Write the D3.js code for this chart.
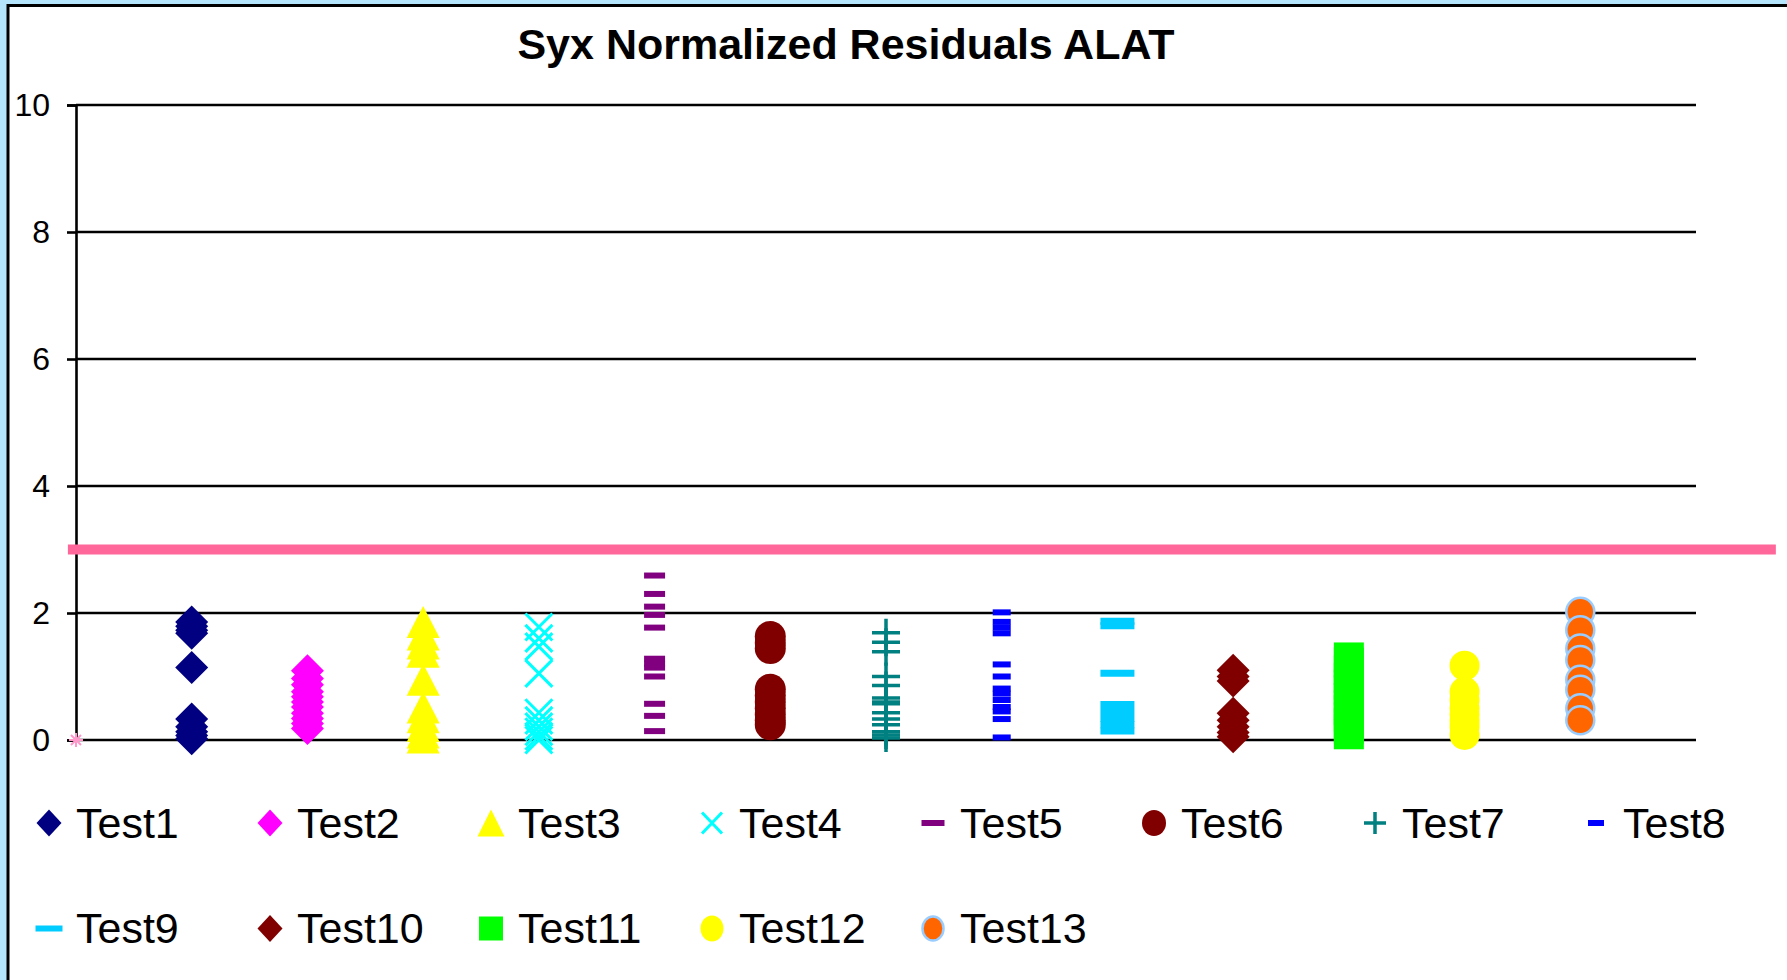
<!DOCTYPE html>
<html>
<head>
<meta charset="utf-8">
<script src="https://cdn.jsdelivr.net/npm/d3@7"></script>
<style>
  body { margin: 0; background: #b5e5fd; }
  svg { display: block; font-family: "Liberation Sans", Arial, sans-serif; }
</style>
</head>
<body>
<svg width="1787" height="980"></svg>
<script>
var svg = d3.select("svg"),
    width = +svg.attr("width"),
    height = +svg.attr("height");

// chart data
var categories = ["Test1", "Test2", "Test3", "Test4", "Test5", "Test6", "Test7",
                  "Test8", "Test9", "Test10", "Test11", "Test12", "Test13"];

var test1  = [1.86, 1.79, 1.73, 1.68, 1.14, 0.33, 0.21, 0.13, 0.07, 0.02];
var test2  = [1.09, 0.97, 0.87, 0.76, 0.68, 0.60, 0.52, 0.42, 0.34, 0.26, 0.18];
var test3  = [1.86, 1.66, 1.52, 1.39, 0.95, 0.51, 0.36, 0.22, 0.12, 0.04];
var test4  = [1.78, 1.60, 1.47, 1.05, 0.43, 0.31, 0.21, 0.13, 0.06, 0.0];
var test5  = [2.59, 2.30, 2.10, 1.97, 1.77, 1.28, 1.20, 1.14, 1.00, 0.57, 0.38, 0.14];
var test6  = [1.63, 1.53, 1.44, 0.80, 0.70, 0.60, 0.50, 0.40, 0.31, 0.24];
var test7  = [1.69, 1.54, 1.39, 1.00, 0.86, 0.66, 0.60, 0.57, 0.43, 0.33, 0.24, 0.13, 0.08, 0.03];
var test8  = [2.01, 1.86, 1.77, 1.68, 1.19, 1.00, 0.81, 0.73, 0.63, 0.52, 0.45, 0.33, 0.04];
var test9  = [1.87, 1.80, 1.05, 0.56, 0.45, 0.34, 0.24, 0.14];
var test10 = [1.10, 1.00, 0.93, 0.42, 0.31, 0.21, 0.12, 0.05];
var test11 = [1.30, 1.22, 1.10, 0.98, 0.87, 0.79, 0.66, 0.55, 0.47, 0.36, 0.27, 0.18, 0.09];
var test12 = [1.17, 0.76, 0.63, 0.50, 0.40, 0.30, 0.21, 0.08];
var test13 = [2.02, 1.73, 1.44, 1.26, 0.95, 0.79, 0.50, 0.31];

var seriesValues = [test1, test2, test3, test4, test5, test6, test7,
                    test8, test9, test10, test11, test12, test13];

var yTicks = [0, 2, 4, 6, 8, 10];
var limitValue = 3;             // pink limit line
var limitExtent = [-0.07, 14.69]; // x extent of limit line
var originPoint = [0, 0];       // the little pink star

// marker look for each series
var markerStyles = [
    {shape: "diamond",  fill: "#000080", w: 33, h: 33, lw: 25, lh: 27},
    {shape: "diamond",  fill: "#ff00ff", w: 33, h: 33, lw: 25, lh: 27},
    {shape: "triangle", fill: "#ffff00", w: 33, h: 32, lw: 27, lh: 27},
    {shape: "x",        stroke: "#00ffff", sw: 3, w: 27, h: 27, lw: 20, lh: 21},
    {shape: "dash",     fill: "#800080", w: 21, h: 6, lw: 23, lh: 6},
    {shape: "circle",   fill: "#800000", w: 31, h: 31, lw: 24, lh: 26},
    {shape: "plus",     stroke: "#008080", sw: 3.5, w: 28, h: 28, lw: 22, lh: 22},
    {shape: "dash",     fill: "#0000ff", w: 18, h: 6, lw: 16, lh: 6},
    {shape: "dash",     fill: "#00ccff", w: 34, h: 7, lw: 27, lh: 6},
    {shape: "diamond",  fill: "#800000", w: 33, h: 33, lw: 25, lh: 27},
    {shape: "square",   fill: "#00ff00", w: 30, h: 30, lw: 24, lh: 24},
    {shape: "circle",   fill: "#ffff00", w: 30, h: 30, lw: 23, lh: 26},
    {shape: "circle",   fill: "#ff6600", stroke: "#99ccff", sw: 2.5, w: 28, h: 28, lw: 21, lh: 24}
];

// path for one marker centred at 0,0
function markerPath(shape, w, h) {
    var p = d3.path();
    if (shape === "diamond") {
        p.moveTo(0, -h / 2); p.lineTo(w / 2, 0); p.lineTo(0, h / 2); p.lineTo(-w / 2, 0); p.closePath();
    } else if (shape === "triangle") {
        p.moveTo(0, -h / 2); p.lineTo(w / 2, h / 2); p.lineTo(-w / 2, h / 2); p.closePath();
    } else if (shape === "square" || shape === "dash") {
        p.rect(-w / 2, -h / 2, w, h);
    } else if (shape === "x") {
        p.moveTo(-w / 2, -h / 2); p.lineTo(w / 2, h / 2);
        p.moveTo(w / 2, -h / 2); p.lineTo(-w / 2, h / 2);
    } else if (shape === "plus") {
        p.moveTo(-w / 2, 0); p.lineTo(w / 2, 0);
        p.moveTo(0, -h / 2); p.lineTo(0, h / 2);
    } else if (shape === "star") {
        p.moveTo(-w / 2, 0); p.lineTo(w / 2, 0);
        p.moveTo(-w / 2.8, -h / 2.8); p.lineTo(w / 2.8, h / 2.8);
        p.moveTo(w / 2.8, -h / 2.8); p.lineTo(-w / 2.8, h / 2.8);
        p.moveTo(0, -h / 2); p.lineTo(0, h / 2);
    }
    if (shape === "circle") {
        var rx = w / 2, ry = h / 2;
        return "M" + (-rx) + ",0A" + rx + "," + ry + " 0 1,0 " + rx + ",0A" + rx + "," + ry + " 0 1,0 " + (-rx) + ",0Z";
    }
    return p.toString();
}

function styleMarker(sel, st) {
    var lineLike = (st.shape === "x" || st.shape === "plus" || st.shape === "star");
    sel.attr("fill", lineLike ? "none" : st.fill)
       .attr("stroke", st.stroke || "none")
       .attr("stroke-width", st.sw || 0);
}

// frame: white chart area with black border over the light blue page
svg.append("rect")
    .attr("x", 0).attr("y", 0)
    .attr("width", width).attr("height", height)
    .attr("fill", "#b5e5fd");
svg.append("rect")
    .attr("x", 8).attr("y", 5.5)
    .attr("width", width + 20).attr("height", height + 20)
    .attr("fill", "#ffffff")
    .attr("stroke", "#000")
    .attr("stroke-width", 3);

// scales
var x = d3.scaleLinear().domain([0, 14]).range([76, 1696]);
var y = d3.scaleLinear().domain([0, 10]).range([740, 105]);

// title
svg.append("text")
    .attr("x", 846)
    .attr("y", 59)
    .attr("text-anchor", "middle")
    .attr("font-size", 43)
    .attr("font-weight", "bold")
    .attr("fill", "#000")
    .text("Syx Normalized Residuals ALAT");

// gridlines
svg.append("g")
    .selectAll("line")
    .data(yTicks)
    .enter().append("line")
    .attr("x1", x(0)).attr("x2", x(14))
    .attr("y1", function(d) { return y(d); })
    .attr("y2", function(d) { return y(d); })
    .attr("stroke", "#000")
    .attr("stroke-width", 2.6);

// y axis
var yAxis = svg.append("g")
    .attr("transform", "translate(" + x(0) + ",0)")
    .call(d3.axisLeft(y).tickValues(yTicks).tickSize(9).tickPadding(17));
yAxis.select(".domain").attr("stroke", "#000").attr("stroke-width", 2.6);
yAxis.selectAll(".tick line").attr("stroke", "#000").attr("stroke-width", 2.6);
yAxis.selectAll(".tick text")
    .attr("font-size", 32)
    .attr("font-family", "'Liberation Sans', Arial, sans-serif")
    .attr("fill", "#000");

// pink limit line
svg.append("line")
    .attr("x1", x(limitExtent[0])).attr("x2", x(limitExtent[1]))
    .attr("y1", y(limitValue)).attr("y2", y(limitValue))
    .attr("stroke", "#ff6699")
    .attr("stroke-width", 10);

// small pink star at origin
svg.append("path")
    .attr("transform", "translate(" + x(originPoint[0]) + "," + y(originPoint[1]) + ")")
    .attr("d", markerPath("star", 14, 14))
    .attr("fill", "none")
    .attr("stroke", "#ff99cc")
    .attr("stroke-width", 2);

// series markers
seriesValues.forEach(function(values, i) {
    var st = markerStyles[i];
    var g = svg.append("g").attr("class", "series");
    g.selectAll("path")
        .data(values)
        .enter().append("path")
        .attr("transform", function(d) { return "translate(" + x(i + 1) + "," + y(d) + ")"; })
        .attr("d", markerPath(st.shape, st.w, st.h))
        .call(styleMarker, st);
});

// legend, two rows of 8 columns
var legend = svg.append("g").attr("class", "legend");
var legendItems = legend.selectAll("g")
    .data(categories)
    .enter().append("g")
    .attr("transform", function(d, i) {
        var col = i % 8, row = Math.floor(i / 8);
        return "translate(" + (49 + col * 221) + "," + (row === 0 ? 823 : 928.5) + ")";
    });

legendItems.append("path")
    .attr("d", function(d, i) {
        var st = markerStyles[i];
        return markerPath(st.shape, st.lw, st.lh);
    })
    .each(function(d, i) { d3.select(this).call(styleMarker, markerStyles[i]); });

legendItems.append("text")
    .attr("x", 27)
    .attr("y", 14.5)
    .attr("font-size", 43)
    .attr("fill", "#000")
    .text(function(d) { return d; });
</script>
</body>
</html>
